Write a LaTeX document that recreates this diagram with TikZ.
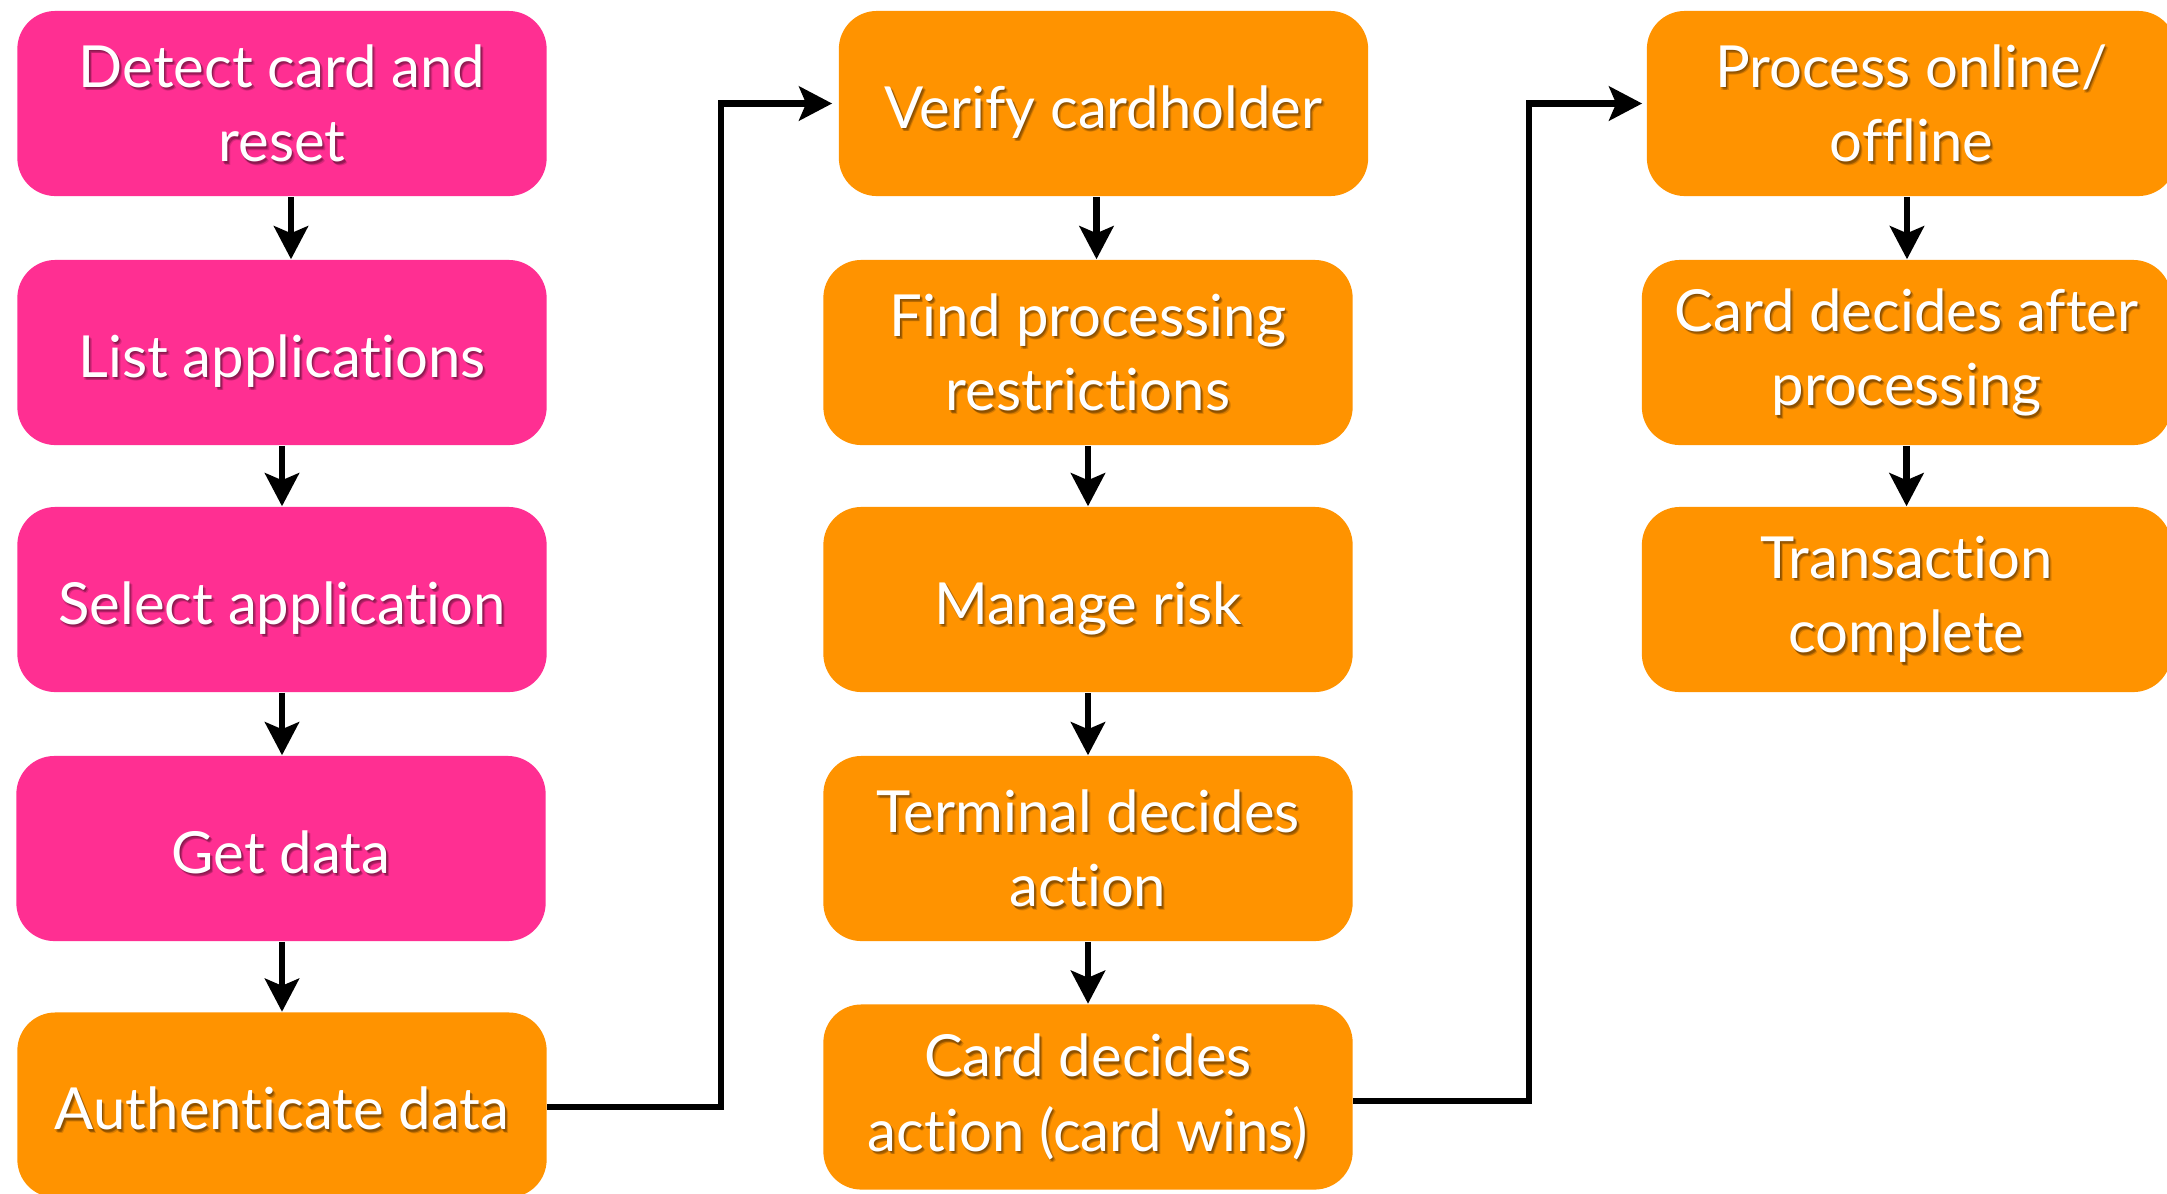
\documentclass[tikz,border=0pt]{standalone}
\usepackage{fontspec}
\setmainfont{Lato}[Ligatures=NoCommon]
\usetikzlibrary{arrows.meta}
\definecolor{strawberry}{HTML}{FF2F92}
\definecolor{tangerine}{HTML}{FF9300}
\newcommand\stepfont{\fontsize{16.5}{21.2}\selectfont}
% a single line sits a little low in its box, keeping the box size
\newcommand\lowline[1]{\raisebox{-0.085cm}[\height][\depth]{\vphantom{Aldgy}#1}}

% A rounded step box with white text and a soft drop shadow under the text
\newcommand\flowstep[5]{% name, fill colour, x, y, text
  \node[stepbox, fill=#2,
    path picture={
      \foreach \dx/\dy in {0.01cm/-0.015cm, 0.02cm/-0.025cm, 0.03cm/-0.035cm, 0.015cm/-0.03cm}
        \node[shadowtext] at ([shift={(\dx,\dy)}]path picture bounding box.center) {#5};
    }] (#1) at (#3,#4) {#5};
}

\begin{document}
\begin{tikzpicture}[x=0.01cm, y=-0.01cm,
  stepbox/.style={rounded corners=0.38cm, minimum width=5.29cm, minimum height=1.85cm,
    inner sep=0pt, text=white, align=center, font=\stepfont},
  shadowtext/.style={inner sep=0pt, align=center, font=\stepfont, text=black, text opacity=0.14},
  arr/.style={-{Stealth[length=0.33cm, width=0.34cm, inset=0.07cm]}, line width=0.065cm, black},
  link/.style={arr, line join=miter}]

\clip (0,0) rectangle (2167,1193);
\fill[white] (0,0) rectangle (2167,1193);

% first column
\flowstep{b1}{strawberry}{282}{103.5}{Detect card and\\reset}
\flowstep{b2}{strawberry}{282}{352.5}{\lowline{List applications}}
\flowstep{b3}{strawberry}{282}{599.5}{\lowline{Select application}}
\flowstep{b4}{strawberry}{281}{848.5}{\lowline{Get data}}
\flowstep{b5}{tangerine}{282}{1105}{\lowline{Authenticate data}}

% second column
\flowstep{v1}{tangerine}{1103.5}{103.5}{\lowline{Verify cardholder}}
\flowstep{v2}{tangerine}{1088}{352.5}{Find processing\\restrictions}
\flowstep{v3}{tangerine}{1088}{599.5}{\lowline{Manage risk}}
\flowstep{v4}{tangerine}{1088}{848.5}{Terminal decides\\action}
\flowstep{v5}{tangerine}{1088}{1097}{Card decides\\action (card wins)}

% third column
\flowstep{p1}{tangerine}{1911.5}{103.5}{Process online/\\offline}
\flowstep{p2}{tangerine}{1906.5}{352.5}{Card decides after\\processing}
\flowstep{p3}{tangerine}{1906.5}{599.5}{Transaction\\complete}

% arrows down each column
\draw[arr] ([xshift=0.09cm]b1.south) -- ([xshift=0.09cm]b1.south |- b2.north);
\draw[arr] (b2.south) -- (b3.north);
\draw[arr] (b3.south) -- (b3.south |- b4.north);
\draw[arr] (b3.south |- b4.south) -- (b3.south |- b5.north);

\draw[arr] ([xshift=-0.07cm]v1.south) -- ([xshift=-0.07cm]v1.south |- v2.north);
\draw[arr] (v2.south) -- (v3.north);
\draw[arr] (v3.south) -- (v4.north);
\draw[arr] (v4.south) -- (v5.north);

\draw[arr] ([xshift=-0.045cm]p1.south) -- ([xshift=-0.045cm]p1.south |- p2.north);
\draw[arr] (p2.south) -- (p3.north);

% links between the columns
\coordinate (j1) at (721,0);
\coordinate (j2) at (1529,0);
\draw[link, shorten >=0.06cm] ([yshift=-0.02cm]b5.east) -| (j1 |- v1.west) -- (v1.west);
\draw[link, shorten >=0.04cm] ([yshift=-0.04cm]v5.east) -| (j2 |- p1.west) -- (p1.west);

\end{tikzpicture}
\end{document}
